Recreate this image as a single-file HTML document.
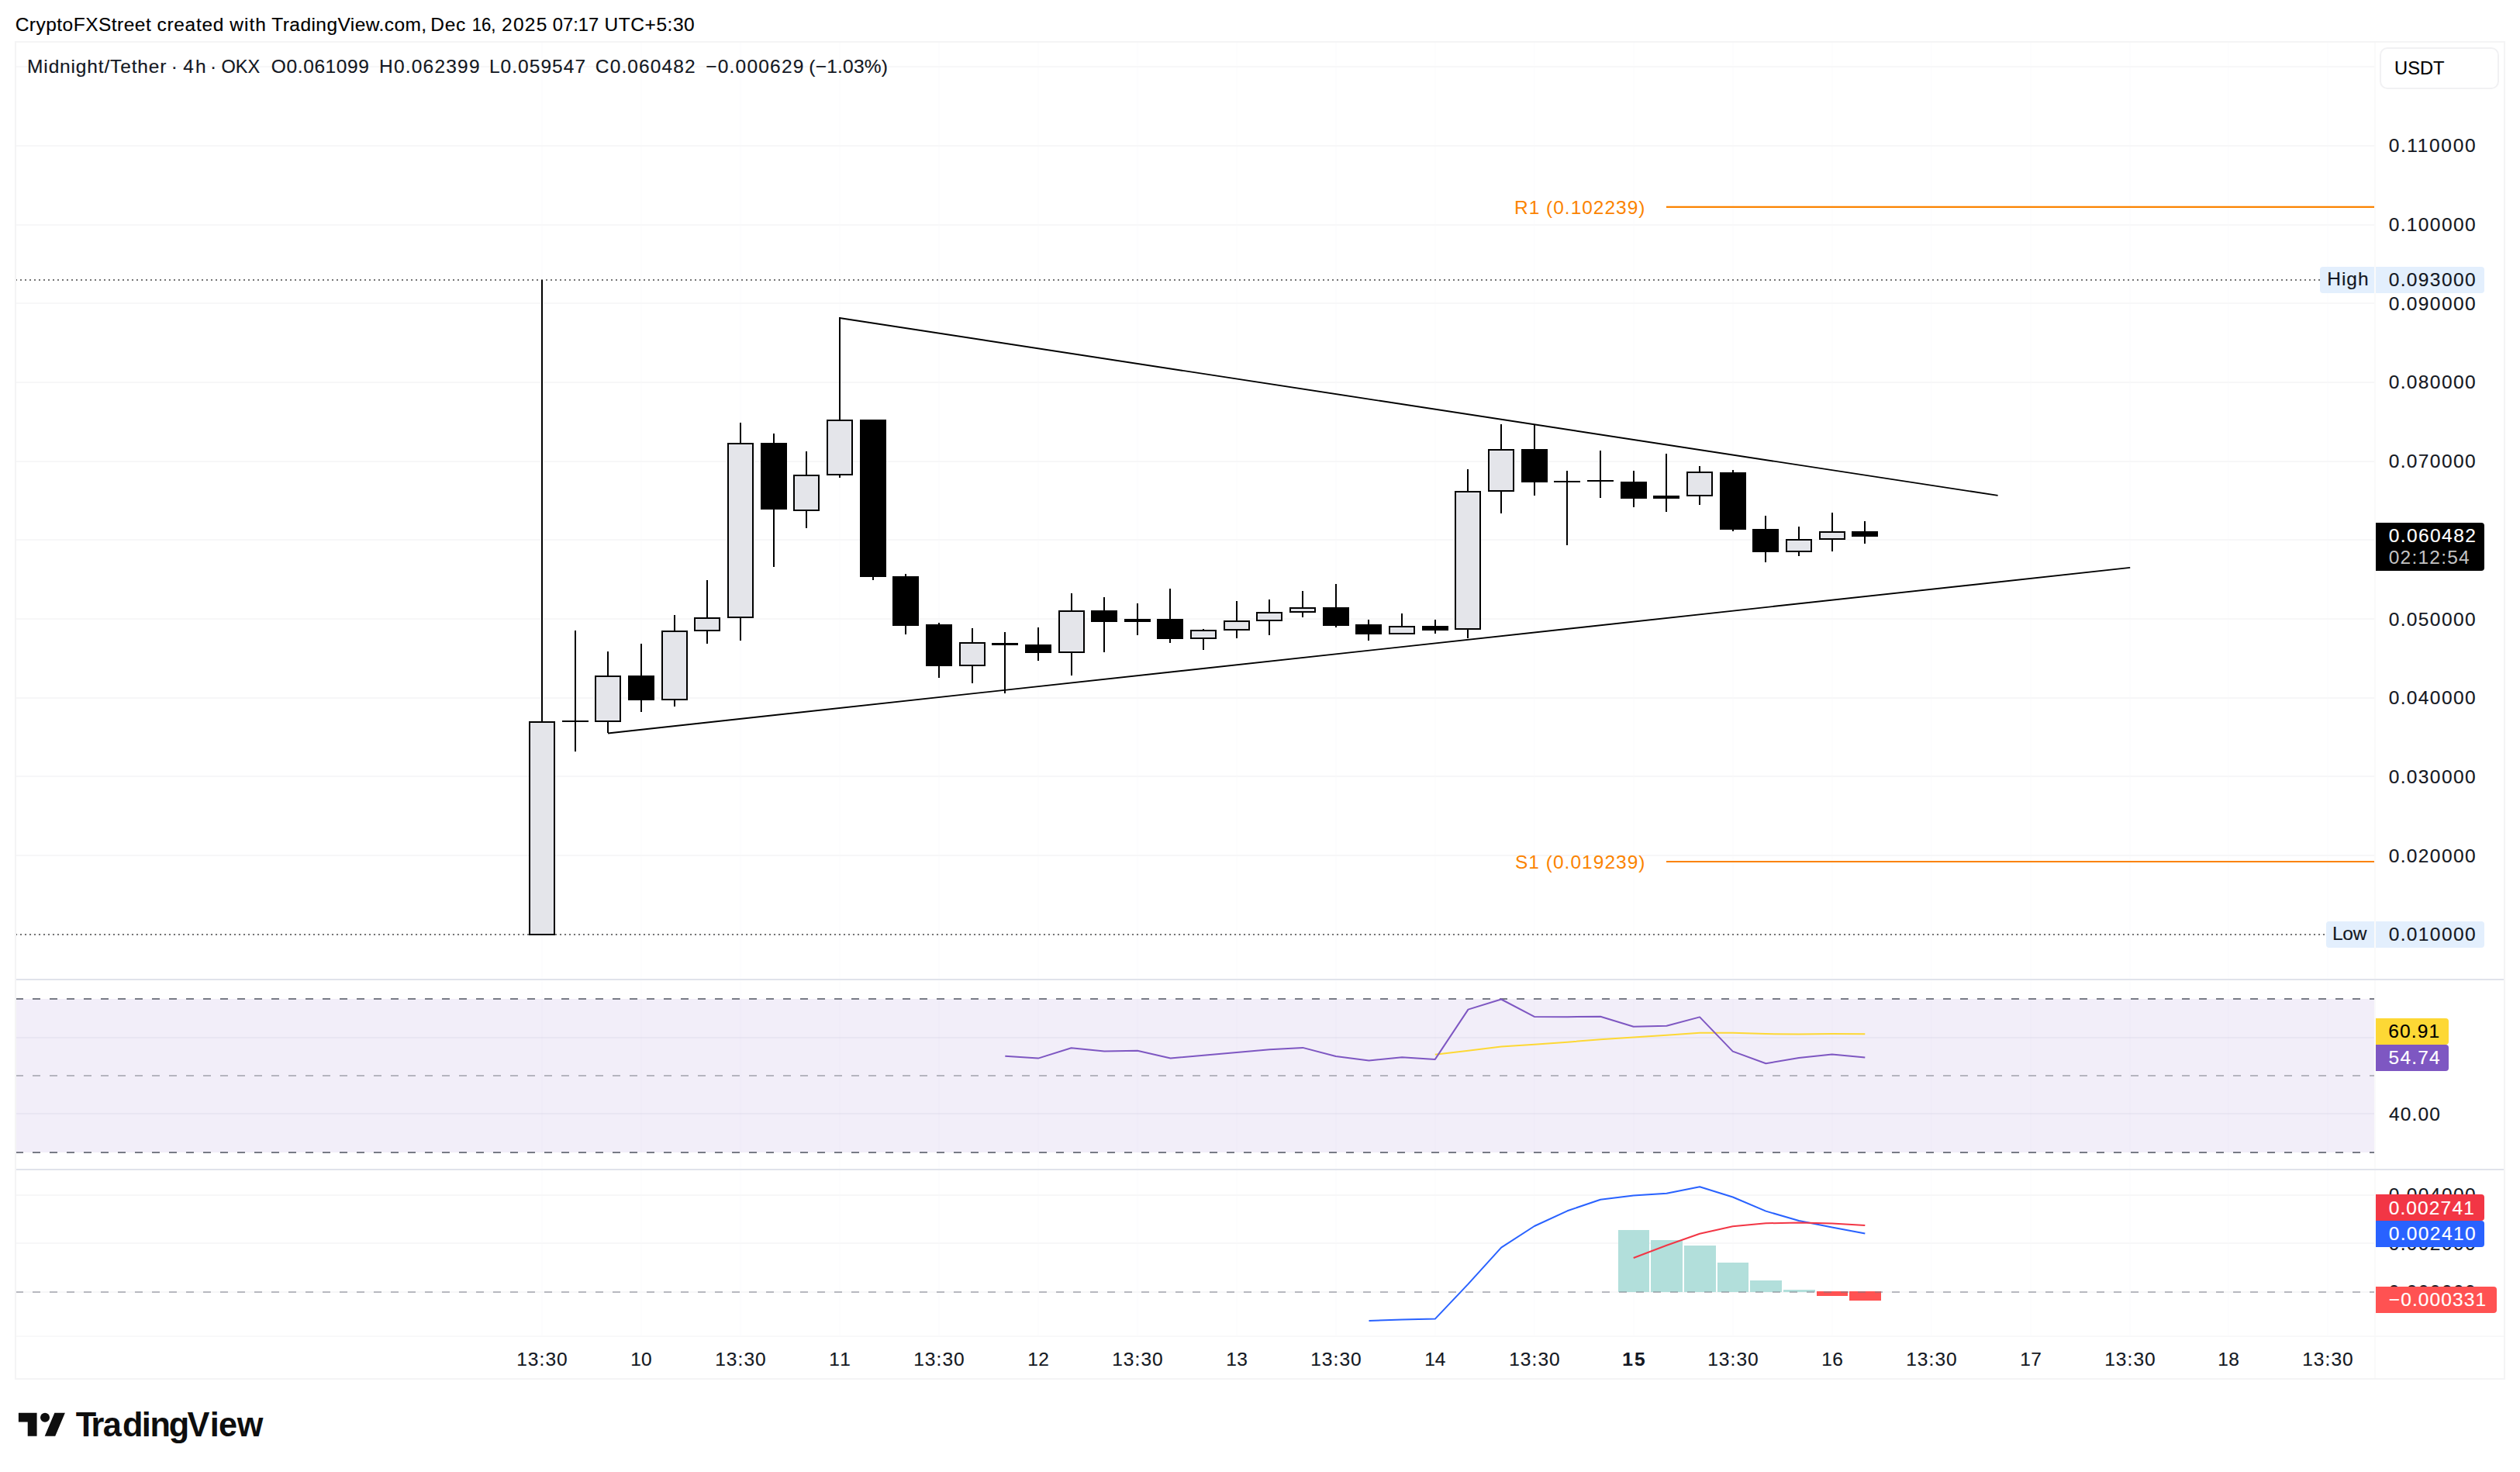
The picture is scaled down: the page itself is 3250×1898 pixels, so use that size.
<!DOCTYPE html>
<html lang="en"><head><meta charset="utf-8"><title>Midnight/Tether chart</title>
<style>html,body{margin:0;padding:0;background:#fff}body{width:3250px;height:1898px;overflow:hidden}svg{display:block}</style>
</head><body>
<svg width="3250" height="1898" viewBox="0 0 3250 1898" font-family="Liberation Sans, sans-serif" font-size="24.5">
<rect width="3250" height="1898" fill="#fff"/>
<g stroke="#fdfdfe" stroke-width="2">
<line x1="699" y1="55" x2="699" y2="1723"/>
<line x1="827" y1="55" x2="827" y2="1723"/>
<line x1="955" y1="55" x2="955" y2="1723"/>
<line x1="1083" y1="55" x2="1083" y2="1723"/>
<line x1="1211" y1="55" x2="1211" y2="1723"/>
<line x1="1339" y1="55" x2="1339" y2="1723"/>
<line x1="1467" y1="55" x2="1467" y2="1723"/>
<line x1="1595" y1="55" x2="1595" y2="1723"/>
<line x1="1723" y1="55" x2="1723" y2="1723"/>
<line x1="1851" y1="55" x2="1851" y2="1723"/>
<line x1="1979" y1="55" x2="1979" y2="1723"/>
<line x1="2107" y1="55" x2="2107" y2="1723"/>
<line x1="2235" y1="55" x2="2235" y2="1723"/>
<line x1="2363" y1="55" x2="2363" y2="1723"/>
<line x1="2491" y1="55" x2="2491" y2="1723"/>
<line x1="2619" y1="55" x2="2619" y2="1723"/>
<line x1="2747" y1="55" x2="2747" y2="1723"/>
<line x1="2874" y1="55" x2="2874" y2="1723"/>
<line x1="3002" y1="55" x2="3002" y2="1723"/>
</g>
<g stroke="#f7f7f8" stroke-width="2">
<line x1="20" y1="1205" x2="3062" y2="1205"/>
<line x1="20" y1="1103" x2="3062" y2="1103"/>
<line x1="20" y1="1001" x2="3062" y2="1001"/>
<line x1="20" y1="900" x2="3062" y2="900"/>
<line x1="20" y1="798" x2="3062" y2="798"/>
<line x1="20" y1="696" x2="3062" y2="696"/>
<line x1="20" y1="595" x2="3062" y2="595"/>
<line x1="20" y1="493" x2="3062" y2="493"/>
<line x1="20" y1="391" x2="3062" y2="391"/>
<line x1="20" y1="290" x2="3062" y2="290"/>
<line x1="20" y1="188" x2="3062" y2="188"/>
<line x1="20" y1="86" x2="3062" y2="86"/>
</g>
<rect x="20" y="1288" width="3042" height="198" fill="#7e57c2" fill-opacity="0.1"/>
<g stroke="#d9d6e6" stroke-opacity="0.35" stroke-width="2">
<line x1="20" y1="1338" x2="3062" y2="1338"/>
<line x1="20" y1="1436" x2="3062" y2="1436"/>
</g>
<g stroke="#f7f7f8" stroke-width="2">
<line x1="20" y1="1541" x2="3062" y2="1541"/>
<line x1="20" y1="1603" x2="3062" y2="1603"/>
<line x1="20" y1="1666" x2="3062" y2="1666"/>
</g>
<g stroke="#787b86" stroke-width="2.1" stroke-dasharray="10 12">
<line x1="20" y1="1288" x2="3062" y2="1288"/>
<line x1="20" y1="1486" x2="3062" y2="1486"/>
<line x1="20" y1="1387" x2="3062" y2="1387" stroke-opacity="0.5"/>
</g>
<g stroke="#757575" stroke-width="2" stroke-dasharray="2 4">
<line x1="20" y1="361" x2="2992" y2="361"/>
<line x1="20" y1="1205" x2="2998" y2="1205"/>
</g>
<g shape-rendering="crispEdges">
<rect x="2087" y="1586" width="40" height="80" fill="#b2dfdb"/>
<rect x="2129" y="1599" width="41" height="67" fill="#b2dfdb"/>
<rect x="2172" y="1606" width="41" height="60" fill="#b2dfdb"/>
<rect x="2215" y="1628" width="40" height="38" fill="#b2dfdb"/>
<rect x="2257" y="1651" width="41" height="15" fill="#b2dfdb"/>
<rect x="2300" y="1663" width="41" height="3" fill="#b2dfdb"/>
<rect x="2343" y="1665" width="40" height="6" fill="#ff5252"/>
<rect x="2385" y="1665" width="41" height="12" fill="#ff5252"/>
</g>
<line x1="20" y1="1666" x2="3062" y2="1666" stroke="#787b86" stroke-width="2.1" stroke-dasharray="10 12" stroke-opacity="0.5"/>
<g shape-rendering="crispEdges">
<rect x="698" y="361" width="2" height="845" fill="#000"/>
<rect x="682" y="930" width="34" height="276" fill="#000"/>
<rect x="684" y="932" width="30" height="272" fill="#e4e5ea"/>
<rect x="741" y="813" width="2" height="156" fill="#000"/>
<rect x="725" y="929" width="34" height="2" fill="#000"/>
<rect x="783" y="840" width="2" height="105" fill="#000"/>
<rect x="767" y="871" width="34" height="60" fill="#000"/>
<rect x="769" y="873" width="30" height="56" fill="#e4e5ea"/>
<rect x="826" y="830" width="2" height="88" fill="#000"/>
<rect x="810" y="871" width="34" height="32" fill="#000"/>
<rect x="869" y="793" width="2" height="118" fill="#000"/>
<rect x="853" y="813" width="34" height="90" fill="#000"/>
<rect x="855" y="815" width="30" height="86" fill="#e4e5ea"/>
<rect x="911" y="748" width="2" height="82" fill="#000"/>
<rect x="895" y="796" width="34" height="18" fill="#000"/>
<rect x="897" y="798" width="30" height="14" fill="#e4e5ea"/>
<rect x="954" y="545" width="2" height="281" fill="#000"/>
<rect x="938" y="571" width="34" height="226" fill="#000"/>
<rect x="940" y="573" width="30" height="222" fill="#e4e5ea"/>
<rect x="997" y="559" width="2" height="172" fill="#000"/>
<rect x="981" y="571" width="34" height="86" fill="#000"/>
<rect x="1039" y="582" width="2" height="99" fill="#000"/>
<rect x="1023" y="612" width="34" height="47" fill="#000"/>
<rect x="1025" y="614" width="30" height="43" fill="#e4e5ea"/>
<rect x="1082" y="409" width="2" height="207" fill="#000"/>
<rect x="1066" y="541" width="34" height="72" fill="#000"/>
<rect x="1068" y="543" width="30" height="68" fill="#e4e5ea"/>
<rect x="1125" y="541" width="2" height="207" fill="#000"/>
<rect x="1109" y="541" width="34" height="203" fill="#000"/>
<rect x="1167" y="740" width="2" height="78" fill="#000"/>
<rect x="1151" y="743" width="34" height="64" fill="#000"/>
<rect x="1210" y="803" width="2" height="71" fill="#000"/>
<rect x="1194" y="805" width="34" height="54" fill="#000"/>
<rect x="1253" y="810" width="2" height="71" fill="#000"/>
<rect x="1237" y="828" width="34" height="31" fill="#000"/>
<rect x="1239" y="830" width="30" height="27" fill="#e4e5ea"/>
<rect x="1295" y="815" width="2" height="79" fill="#000"/>
<rect x="1279" y="829" width="34" height="3" fill="#000"/>
<rect x="1338" y="809" width="2" height="43" fill="#000"/>
<rect x="1322" y="831" width="34" height="11" fill="#000"/>
<rect x="1381" y="765" width="2" height="106" fill="#000"/>
<rect x="1365" y="787" width="34" height="55" fill="#000"/>
<rect x="1367" y="789" width="30" height="51" fill="#e4e5ea"/>
<rect x="1423" y="770" width="2" height="71" fill="#000"/>
<rect x="1407" y="787" width="34" height="15" fill="#000"/>
<rect x="1466" y="778" width="2" height="41" fill="#000"/>
<rect x="1450" y="798" width="34" height="4" fill="#000"/>
<rect x="1508" y="759" width="2" height="70" fill="#000"/>
<rect x="1492" y="798" width="34" height="26" fill="#000"/>
<rect x="1551" y="811" width="2" height="27" fill="#000"/>
<rect x="1535" y="812" width="34" height="12" fill="#000"/>
<rect x="1537" y="814" width="30" height="8" fill="#e4e5ea"/>
<rect x="1594" y="775" width="2" height="48" fill="#000"/>
<rect x="1578" y="800" width="34" height="13" fill="#000"/>
<rect x="1580" y="802" width="30" height="9" fill="#e4e5ea"/>
<rect x="1636" y="773" width="2" height="46" fill="#000"/>
<rect x="1620" y="789" width="34" height="12" fill="#000"/>
<rect x="1622" y="791" width="30" height="8" fill="#e4e5ea"/>
<rect x="1679" y="762" width="2" height="34" fill="#000"/>
<rect x="1663" y="783" width="34" height="7" fill="#000"/>
<rect x="1665" y="785" width="30" height="3" fill="#e4e5ea"/>
<rect x="1722" y="753" width="2" height="56" fill="#000"/>
<rect x="1706" y="783" width="34" height="24" fill="#000"/>
<rect x="1764" y="799" width="2" height="27" fill="#000"/>
<rect x="1748" y="805" width="34" height="13" fill="#000"/>
<rect x="1807" y="791" width="2" height="27" fill="#000"/>
<rect x="1791" y="807" width="34" height="11" fill="#000"/>
<rect x="1793" y="809" width="30" height="7" fill="#e4e5ea"/>
<rect x="1850" y="799" width="2" height="18" fill="#000"/>
<rect x="1834" y="807" width="34" height="6" fill="#000"/>
<rect x="1892" y="605" width="2" height="218" fill="#000"/>
<rect x="1876" y="633" width="34" height="179" fill="#000"/>
<rect x="1878" y="635" width="30" height="175" fill="#e4e5ea"/>
<rect x="1935" y="547" width="2" height="115" fill="#000"/>
<rect x="1919" y="579" width="34" height="55" fill="#000"/>
<rect x="1921" y="581" width="30" height="51" fill="#e4e5ea"/>
<rect x="1978" y="548" width="2" height="91" fill="#000"/>
<rect x="1962" y="579" width="34" height="43" fill="#000"/>
<rect x="2020" y="607" width="2" height="96" fill="#000"/>
<rect x="2004" y="620" width="34" height="2" fill="#000"/>
<rect x="2063" y="581" width="2" height="61" fill="#000"/>
<rect x="2047" y="619" width="34" height="2" fill="#000"/>
<rect x="2106" y="607" width="2" height="47" fill="#000"/>
<rect x="2090" y="621" width="34" height="22" fill="#000"/>
<rect x="2148" y="585" width="2" height="75" fill="#000"/>
<rect x="2132" y="639" width="34" height="4" fill="#000"/>
<rect x="2191" y="601" width="2" height="50" fill="#000"/>
<rect x="2175" y="608" width="34" height="32" fill="#000"/>
<rect x="2177" y="610" width="30" height="28" fill="#e4e5ea"/>
<rect x="2234" y="606" width="2" height="79" fill="#000"/>
<rect x="2218" y="609" width="34" height="74" fill="#000"/>
<rect x="2276" y="665" width="2" height="60" fill="#000"/>
<rect x="2260" y="682" width="34" height="30" fill="#000"/>
<rect x="2319" y="679" width="2" height="38" fill="#000"/>
<rect x="2303" y="695" width="34" height="17" fill="#000"/>
<rect x="2305" y="697" width="30" height="13" fill="#e4e5ea"/>
<rect x="2362" y="661" width="2" height="50" fill="#000"/>
<rect x="2346" y="685" width="34" height="11" fill="#000"/>
<rect x="2348" y="687" width="30" height="7" fill="#e4e5ea"/>
<rect x="2404" y="672" width="2" height="29" fill="#000"/>
<rect x="2388" y="685" width="34" height="7" fill="#000"/>
</g>
<g stroke="#000" stroke-width="1.9" fill="none">
<line x1="1082.7" y1="410.0" x2="2576.6" y2="638.9"/>
<line x1="784.0" y1="945.5" x2="2747.2" y2="731.9"/>
</g>
<g stroke="#fb8300" stroke-width="2.2">
<line x1="2149" y1="266.8" x2="3062" y2="266.8"/>
<line x1="2149" y1="1111" x2="3062" y2="1111"/>
</g>
<text x="1952.99" y="276" fill="#fb8300" stroke="#fb8300" stroke-width="0" textLength="168.53" lengthAdjust="spacing">R1 (0.102239)</text>
<text x="1953.89" y="1120" fill="#fb8300" stroke="#fb8300" stroke-width="0" textLength="167.63" lengthAdjust="spacing">S1 (0.019239)</text>
<polyline points="1850.8,1359.7 1893.5,1354.8 1936.1,1349.6 1978.8,1346.8 2021.4,1343.7 2064.1,1340.3 2106.7,1337.5 2149.4,1334.7 2192.1,1331.8 2234.7,1331.8 2277.4,1333.1 2320.0,1333.6 2362.7,1333.1 2405.3,1333.3" fill="none" stroke="#fdd835" stroke-width="2.0" stroke-linejoin="round"/>
<polyline points="1296.3,1361.8 1338.9,1364.6 1381.6,1351.2 1424.3,1355.6 1466.9,1354.8 1509.6,1364.4 1552.2,1360.7 1594.9,1356.9 1637.5,1353.3 1680.2,1350.9 1722.8,1362 1765.5,1367.5 1808.2,1363.3 1850.8,1365.9 1893.5,1301.6 1936.1,1288.5 1978.8,1310.9 2021.4,1311.2 2064.1,1310.7 2106.7,1323.8 2149.4,1322.8 2192.1,1311.4 2234.7,1355.6 2277.4,1371.3 2320.0,1364.1 2362.7,1359.4 2405.3,1363.6" fill="none" stroke="#7e57c2" stroke-width="2.0" stroke-linejoin="round"/>
<polyline points="1765.5,1702.9 1808.2,1701.6 1850.8,1700.6 1893.5,1655.6 1936.1,1608.6 1978.8,1581 2021.4,1561.3 2064.1,1546.7 2106.7,1541.6 2149.4,1538.7 2192.1,1530.2 2234.7,1543.5 2277.4,1561.6 2320.0,1574 2362.7,1582.5 2405.3,1590.5" fill="none" stroke="#2962ff" stroke-width="2.0" stroke-linejoin="round"/>
<polyline points="2106.7,1622 2149.4,1605.7 2192.1,1590.7 2234.7,1581.2 2277.4,1577.3 2320.0,1576.5 2362.7,1577.6 2405.3,1579.9" fill="none" stroke="#f23645" stroke-width="2.0" stroke-linejoin="round"/>
<g fill="none" stroke="#f4f4f5" stroke-width="2">
<rect x="20" y="54" width="3210" height="1724"/>
<line x1="3063" y1="55" x2="3063" y2="1777" stroke="#fafafa"/>
<line x1="21" y1="1723" x2="3229" y2="1723" stroke="#f8f8f9"/>
</g>
<g stroke="#e0e3eb" stroke-width="2">
<line x1="21" y1="1263" x2="3229" y2="1263"/>
<line x1="21" y1="1508" x2="3229" y2="1508"/>
</g>
<text x="3080.64" y="196" fill="#131722" stroke="#131722" stroke-width="0.15" textLength="111.91" lengthAdjust="spacing">0.110000</text>
<text x="3080.64" y="298" fill="#131722" stroke="#131722" stroke-width="0.15" textLength="111.91" lengthAdjust="spacing">0.100000</text>
<text x="3080.64" y="400" fill="#131722" stroke="#131722" stroke-width="0.15" textLength="111.91" lengthAdjust="spacing">0.090000</text>
<text x="3080.64" y="501" fill="#131722" stroke="#131722" stroke-width="0.15" textLength="111.91" lengthAdjust="spacing">0.080000</text>
<text x="3080.64" y="603" fill="#131722" stroke="#131722" stroke-width="0.15" textLength="111.91" lengthAdjust="spacing">0.070000</text>
<text x="3080.64" y="807" fill="#131722" stroke="#131722" stroke-width="0.15" textLength="111.91" lengthAdjust="spacing">0.050000</text>
<text x="3080.64" y="908" fill="#131722" stroke="#131722" stroke-width="0.15" textLength="111.91" lengthAdjust="spacing">0.040000</text>
<text x="3080.64" y="1010" fill="#131722" stroke="#131722" stroke-width="0.15" textLength="111.91" lengthAdjust="spacing">0.030000</text>
<text x="3080.64" y="1112" fill="#131722" stroke="#131722" stroke-width="0.15" textLength="111.91" lengthAdjust="spacing">0.020000</text>
<rect x="3070" y="62" width="152" height="52" rx="9" fill="#fff" stroke="#f1f1f3" stroke-width="2"/>
<text x="3088.11" y="96" fill="#000" stroke="#000" stroke-width="0.15" textLength="64.45" lengthAdjust="spacingAndGlyphs">USDT</text>
<path d="M2996,344 h66 v34 h-66 a4,4 0 0 1 -4,-4 v-26 a4,4 0 0 1 4,-4z" fill="#e3effd"/>
<path d="M3064,344 h136 a4,4 0 0 1 4,4 v26 a4,4 0 0 1 -4,4 h-136z" fill="#e3effd"/>
<text x="3001.19" y="368" fill="#131722" stroke="#131722" stroke-width="0.15" textLength="53.40" lengthAdjust="spacing">High</text>
<text x="3080.64" y="369" fill="#131722" stroke="#131722" stroke-width="0.15" textLength="111.91" lengthAdjust="spacing">0.093000</text>
<path d="M3004,1188 h58 v34 h-58 a4,4 0 0 1 -4,-4 v-26 a4,4 0 0 1 4,-4z" fill="#e3effd"/>
<path d="M3064,1188 h136 a4,4 0 0 1 4,4 v26 a4,4 0 0 1 -4,4 h-136z" fill="#e3effd"/>
<text x="3007.99" y="1212" fill="#131722" stroke="#131722" stroke-width="0.15" textLength="44.45" lengthAdjust="spacing">Low</text>
<text x="3080.64" y="1213" fill="#131722" stroke="#131722" stroke-width="0.15" textLength="111.91" lengthAdjust="spacing">0.010000</text>
<path d="M3064,674 h136 a4,4 0 0 1 4,4 v54 a4,4 0 0 1 -4,4 h-136z" fill="#000"/>
<text x="3080.64" y="699" fill="#fff" stroke="#fff" stroke-width="0.15" textLength="112.19" lengthAdjust="spacing">0.060482</text>
<text x="3080.64" y="727" fill="#c4c4c4" stroke="#c4c4c4" stroke-width="0" textLength="104.07" lengthAdjust="spacing">02:12:54</text>
<text x="3081.04" y="1445" fill="#131722" stroke="#131722" stroke-width="0.15" textLength="65.92" lengthAdjust="spacing">40.00</text>
<path d="M3064,1313 h90 a4,4 0 0 1 4,4 v26 a4,4 0 0 1 -4,4 h-90z" fill="#fdd835"/>
<text x="3080.36" y="1338" fill="#000" stroke="#000" stroke-width="0.15" textLength="65.84" lengthAdjust="spacing">60.91</text>
<path d="M3064,1347 h90 a4,4 0 0 1 4,4 v26 a4,4 0 0 1 -4,4 h-90z" fill="#7e57c2"/>
<text x="3080.62" y="1372" fill="#fff" stroke="#fff" stroke-width="0.15" textLength="66.10" lengthAdjust="spacing">54.74</text>
<text x="3080.64" y="1549" fill="#131722" stroke="#131722" stroke-width="0.15" textLength="111.91" lengthAdjust="spacing">0.004000</text>
<text x="3080.64" y="1612" fill="#131722" stroke="#131722" stroke-width="0.15" textLength="111.91" lengthAdjust="spacing">0.002000</text>
<text x="3080.64" y="1674" fill="#131722" stroke="#131722" stroke-width="0.15" textLength="111.91" lengthAdjust="spacing">0.000000</text>
<path d="M3064,1540 h136 a4,4 0 0 1 4,4 v26 a4,4 0 0 1 -4,4 h-136z" fill="#f23645"/>
<text x="3080.64" y="1566" fill="#fff" stroke="#fff" stroke-width="0.15" textLength="110.15" lengthAdjust="spacing">0.002741</text>
<path d="M3064,1574 h136 a4,4 0 0 1 4,4 v26 a4,4 0 0 1 -4,4 h-136z" fill="#2962ff"/>
<text x="3080.64" y="1599" fill="#fff" stroke="#fff" stroke-width="0.15" textLength="111.91" lengthAdjust="spacing">0.002410</text>
<path d="M3064,1659 h152 a4,4 0 0 1 4,4 v26 a4,4 0 0 1 -4,4 h-152z" fill="#ff5252"/>
<text x="3080.79" y="1684" fill="#fff" stroke="#fff" stroke-width="0.15" textLength="125.40" lengthAdjust="spacing">−0.000331</text>
<text x="666.18" y="1761" fill="#131722" stroke="#131722" stroke-width="0.15" textLength="65.52" lengthAdjust="spacing">13:30</text>
<text x="813.18" y="1761" fill="#131722" stroke="#131722" stroke-width="0.15" textLength="27.52" lengthAdjust="spacing">10</text>
<text x="922.18" y="1761" fill="#131722" stroke="#131722" stroke-width="0.15" textLength="65.52" lengthAdjust="spacing">13:30</text>
<text x="1069.18" y="1761" fill="#131722" stroke="#131722" stroke-width="0.15" textLength="27.76" lengthAdjust="spacing">11</text>
<text x="1178.18" y="1761" fill="#131722" stroke="#131722" stroke-width="0.15" textLength="65.52" lengthAdjust="spacing">13:30</text>
<text x="1325.18" y="1761" fill="#131722" stroke="#131722" stroke-width="0.15" textLength="27.80" lengthAdjust="spacing">12</text>
<text x="1434.18" y="1761" fill="#131722" stroke="#131722" stroke-width="0.15" textLength="65.52" lengthAdjust="spacing">13:30</text>
<text x="1581.18" y="1761" fill="#131722" stroke="#131722" stroke-width="0.15" textLength="27.64" lengthAdjust="spacing">13</text>
<text x="1690.18" y="1761" fill="#131722" stroke="#131722" stroke-width="0.15" textLength="65.52" lengthAdjust="spacing">13:30</text>
<text x="1837.18" y="1761" fill="#131722" stroke="#131722" stroke-width="0.15" textLength="27.28" lengthAdjust="spacing">14</text>
<text x="1946.18" y="1761" fill="#131722" stroke="#131722" stroke-width="0.15" textLength="65.52" lengthAdjust="spacing">13:30</text>
<text x="2092.26" y="1761" fill="#131722" stroke="#131722" stroke-width="0.15" textLength="29.43" lengthAdjust="spacing" font-weight="bold">15</text>
<text x="2202.18" y="1761" fill="#131722" stroke="#131722" stroke-width="0.15" textLength="65.52" lengthAdjust="spacing">13:30</text>
<text x="2349.18" y="1761" fill="#131722" stroke="#131722" stroke-width="0.15" textLength="27.64" lengthAdjust="spacing">16</text>
<text x="2458.18" y="1761" fill="#131722" stroke="#131722" stroke-width="0.15" textLength="65.52" lengthAdjust="spacing">13:30</text>
<text x="2605.18" y="1761" fill="#131722" stroke="#131722" stroke-width="0.15" textLength="27.80" lengthAdjust="spacing">17</text>
<text x="2714.18" y="1761" fill="#131722" stroke="#131722" stroke-width="0.15" textLength="65.52" lengthAdjust="spacing">13:30</text>
<text x="2860.18" y="1761" fill="#131722" stroke="#131722" stroke-width="0.15" textLength="27.63" lengthAdjust="spacing">18</text>
<text x="2969.18" y="1761" fill="#131722" stroke="#131722" stroke-width="0.15" textLength="65.52" lengthAdjust="spacing">13:30</text>
<text y="40" fill="#000" stroke="#000" stroke-width="0.15"><tspan x="19.66" textLength="175.12" lengthAdjust="spacing">CryptoFXStreet</tspan> <tspan x="202.46" textLength="85.92" lengthAdjust="spacing">created</tspan> <tspan x="296.24" textLength="46.76" lengthAdjust="spacing">with</tspan> <tspan x="350.25" textLength="199.85" lengthAdjust="spacing">TradingView.com,</tspan> <tspan x="555.29" textLength="45.06" lengthAdjust="spacing">Dec</tspan> <tspan x="608.63" textLength="30.87" lengthAdjust="spacingAndGlyphs">16,</tspan> <tspan x="647.07" textLength="58.26" lengthAdjust="spacing">2025</tspan> <tspan x="712.84" textLength="59.39" lengthAdjust="spacingAndGlyphs">07:17</tspan> <tspan x="779.51" textLength="116.25" lengthAdjust="spacing">UTC+5:30</tspan></text>
<text y="94" fill="#131722" stroke="#131722" stroke-width="0.15"><tspan x="35.09" textLength="179.32" lengthAdjust="spacing">Midnight/Tether</tspan> <tspan x="220.69" textLength="9.03" lengthAdjust="spacing">·</tspan> <tspan x="236.14" textLength="29.45" lengthAdjust="spacing">4h</tspan> <tspan x="270.99" textLength="9.03" lengthAdjust="spacing">·</tspan> <tspan x="285.54" textLength="49.77" lengthAdjust="spacingAndGlyphs">OKX</tspan> <tspan x="349.84" textLength="126.12" lengthAdjust="spacing">O0.061099</tspan> <tspan x="488.99" textLength="129.57" lengthAdjust="spacing">H0.062399</tspan> <tspan x="630.89" textLength="124.14" lengthAdjust="spacing">L0.059547</tspan> <tspan x="767.86" textLength="128.78" lengthAdjust="spacing">C0.060482</tspan> <tspan x="910.29" textLength="126.07" lengthAdjust="spacing">−0.000629</tspan> <tspan x="1043.28" textLength="101.74" lengthAdjust="spacing">(−1.03%)</tspan></text>
<g transform="translate(23.9,1815.2) scale(1.69,1.667)" fill="#0e0e0e"><path d="M14 22H7V11H0V4h14v18zM28 22h-8l7.5-18h8L28 22z"/><circle cx="20.2" cy="7.55" r="3.55"/></g>
<text x="97.71 117.55 132.63 157.92 182.88 193.55 217.82 241.40 270.78 282.01 305.73" y="0" transform="translate(0,1852) scale(1,1.035)" font-size="43.3" font-weight="bold" fill="#0e0e0e">TradingView</text>
</svg>
</body></html>
